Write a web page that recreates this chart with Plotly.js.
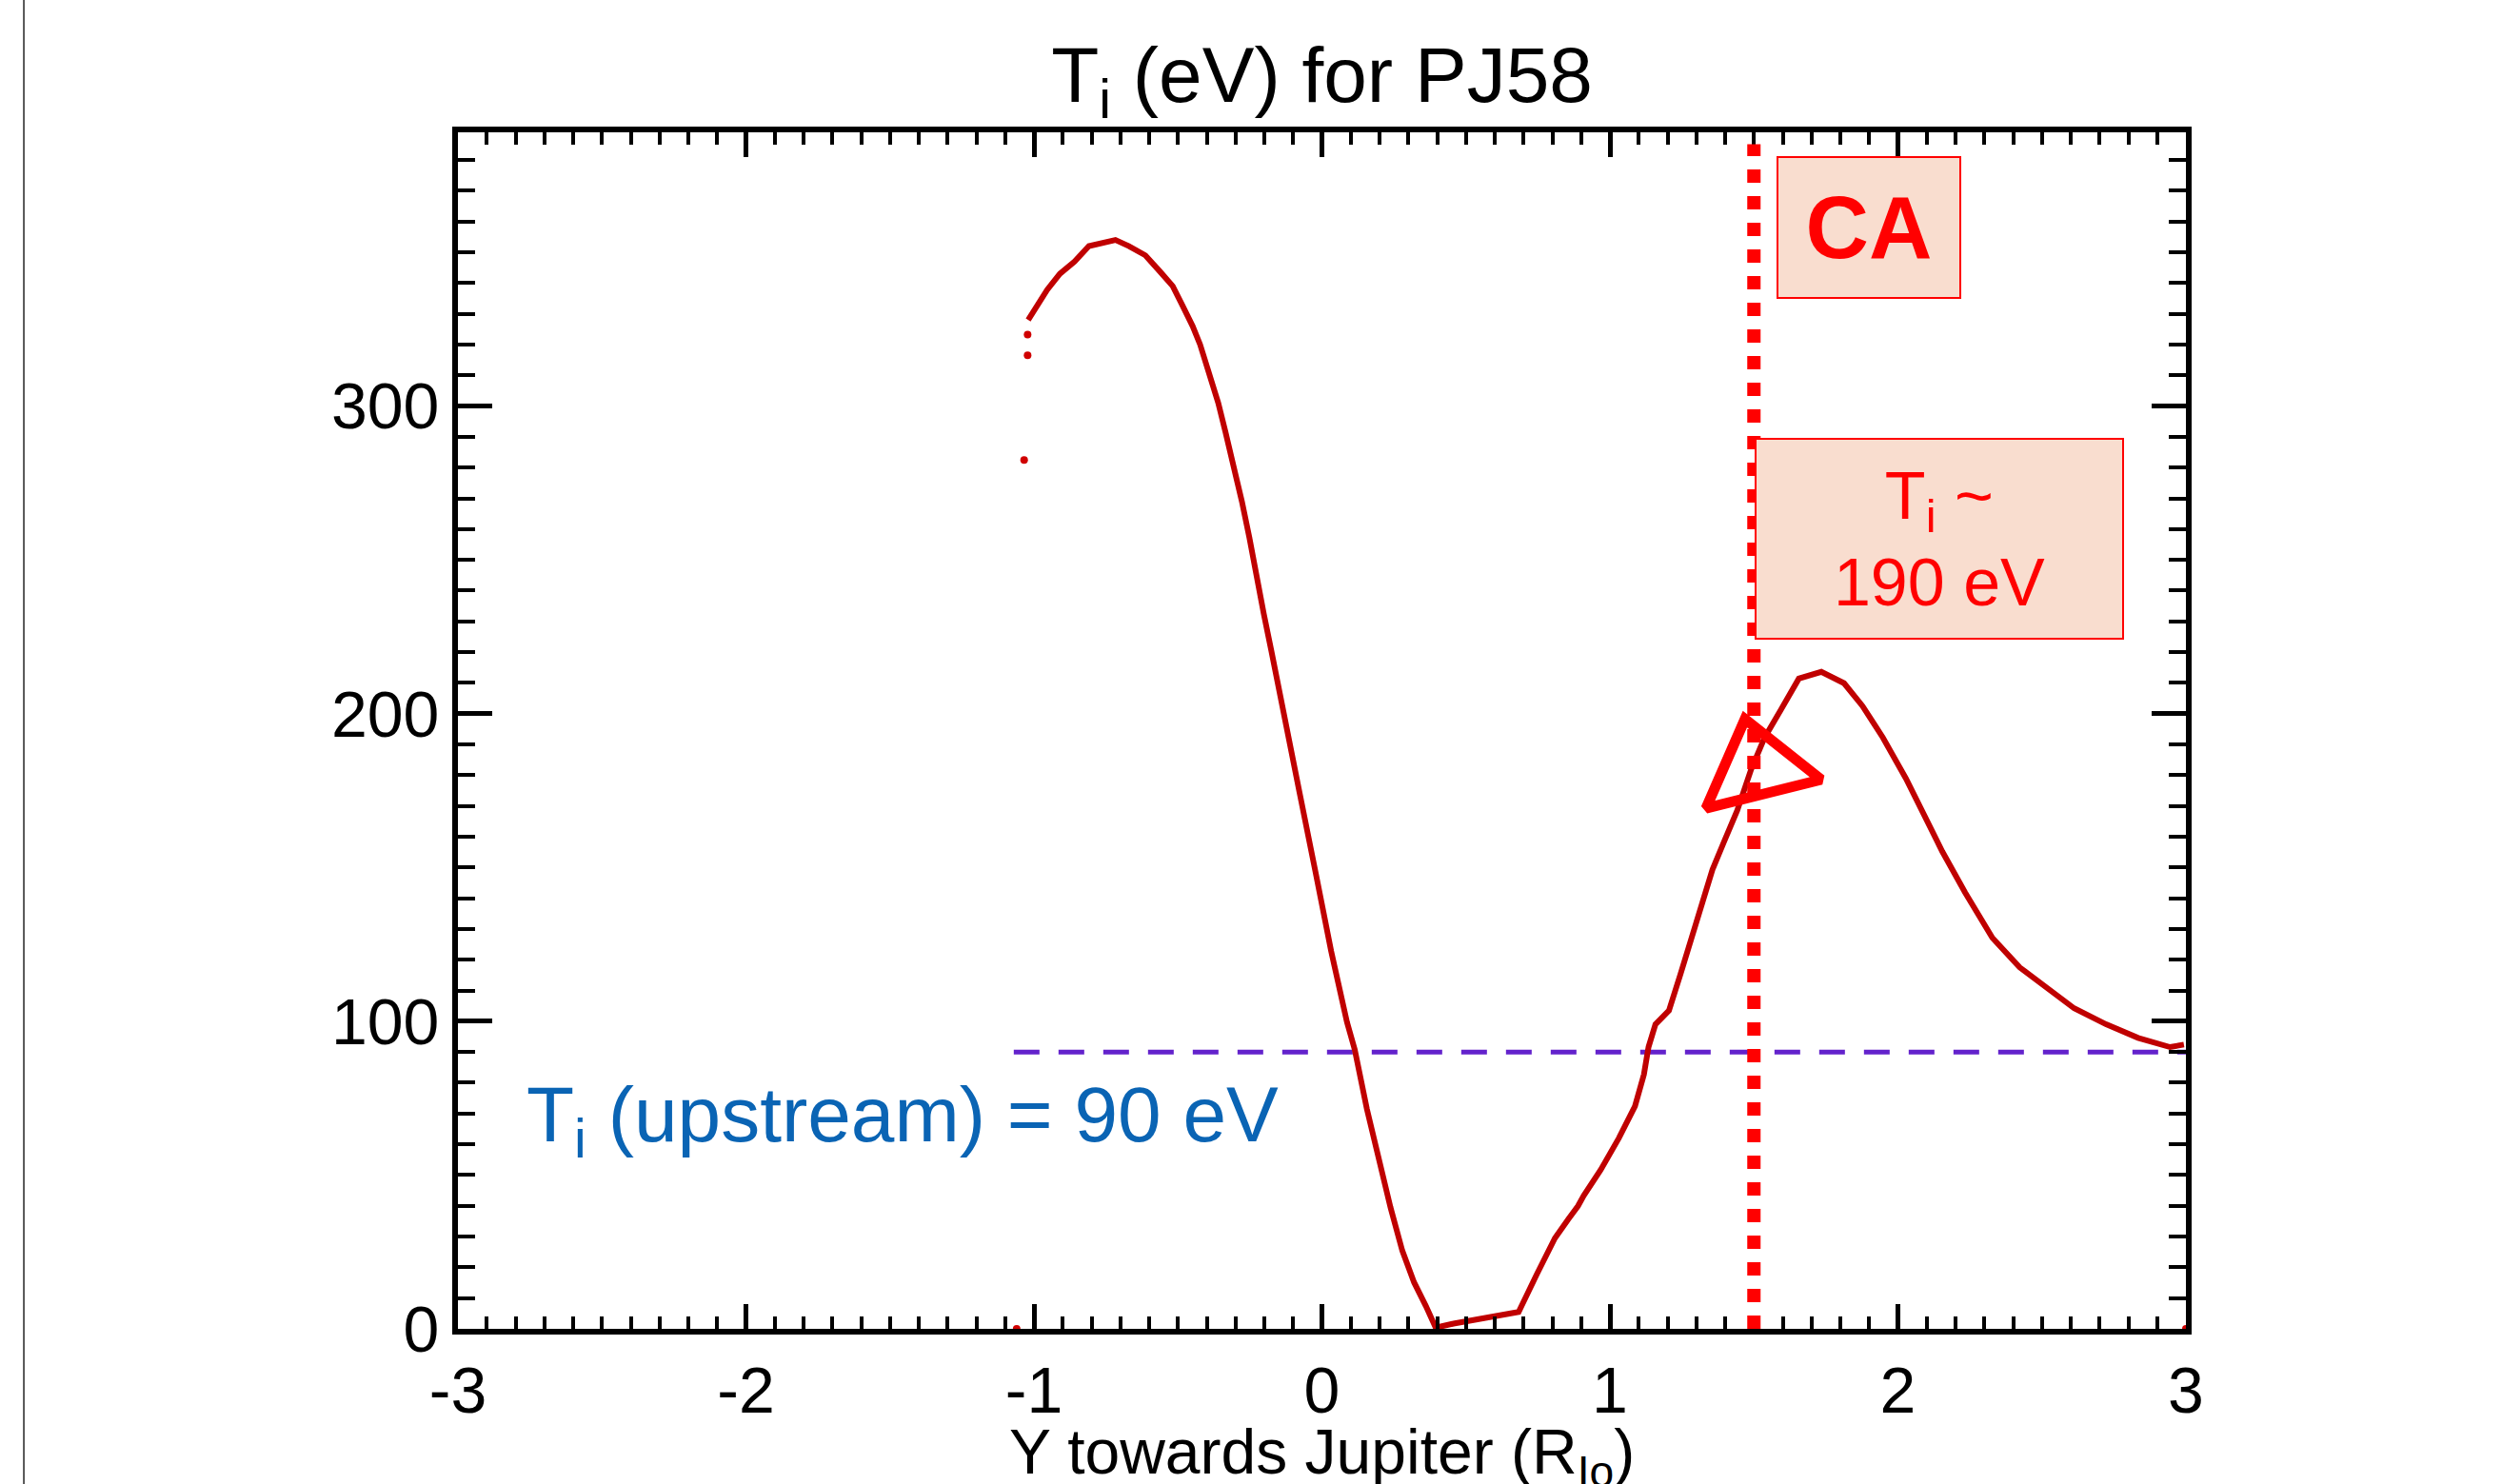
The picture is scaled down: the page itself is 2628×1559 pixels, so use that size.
<!DOCTYPE html>
<html>
<head>
<meta charset="utf-8">
<script src="https://cdn.plot.ly/plotly-3.0.1.min.js"></script>
<style>
  html, body { margin: 0; padding: 0; background: #ffffff; }
  #chart { width: 2628px; height: 1559px; }
</style>
</head>
<body>
<div id="chart"></div>
<script>
// ---- Data ----
// Y towards Jupiter (R_Io)
const yTowardsJupiter = [
  -1.020, -0.992, -0.954, -0.910, -0.859, -0.809, -0.765, -0.717, -0.670, -0.613,
  -0.562, -0.518, -0.486, -0.449, -0.423, -0.392, -0.360, -0.335, -0.303, -0.278,
  -0.252, -0.227, -0.202, -0.176, -0.145, -0.120, -0.094, -0.077, -0.022, 0.032,
  0.087, 0.114, 0.156, 0.197, 0.238, 0.279, 0.320, 0.361, 0.395, 0.457,
  0.526, 0.594, 0.683, 0.746, 0.809, 0.855, 0.889, 0.909, 0.968, 1.031,
  1.087, 1.118, 1.134, 1.158, 1.205, 1.245, 1.285, 1.324, 1.356, 1.395,
  1.442, 1.490, 1.537, 1.592, 1.656, 1.734, 1.813, 1.877, 1.948, 2.028,
  2.091, 2.154, 2.233, 2.328, 2.423, 2.518, 2.612, 2.723, 2.834, 2.945, 2.993
];
// Ion temperature T_i (eV)
const ionTempEv = [
  328, 332, 337.8, 343, 347, 352, 352.8, 354, 352, 349,
  343.7, 339, 333, 326, 320, 310.5, 301, 291.6, 279.8, 269,
  257.3, 244.3, 232.5, 220.6, 206.5, 194.6, 184, 174, 148.4, 122.8,
  99.7, 90.8, 71.5, 54.9, 39.5, 25.4, 15.1, 7.4, 0.4, 1.7,
  3, 4.2, 5.5, 17.7, 29.5, 35.6, 39.9, 43.3, 51.7, 62,
  72.4, 82.7, 91.6, 99, 103.5, 115.3, 127.1, 139, 149.3, 158.1,
  168.5, 181.8, 192.2, 201, 211.4, 213.6, 209.9, 202.5, 192.2, 178.9,
  167, 155.2, 141.9, 127.1, 117.5, 110.9, 104.2, 99, 94.6, 91.6, 92.4
];
// isolated samples
const strayY = [-1.034, -1.022, -1.022, -1.06, 3.0];
const strayTemp = [282.5, 316.5, 323.2, 0, 0];

// upstream reference level
const upstreamY = [-1.07, 3.0];
const upstreamTemp = [90, 90];

// closest approach
const caPosition = 1.5;
const caMarkerY = [1.512];
const caMarkerTemp = [182];

// ticks
const xTickVals = [-3, -2, -1, 0, 1, 2, 3];
const xTickText = ['-3', '-2', '-1', '0', '1', '2', '3'];
const yTickVals = [0, 100, 200, 300];
const yTickText = ['0', '100', '200', '300'];

const FONT = 'Liberation Sans, Arial, Helvetica, sans-serif';

const traces = [
  {
    x: upstreamY, y: upstreamTemp, type: 'scatter', mode: 'lines',
    line: { color: '#6322cc', width: 5, dash: '27px,20px' },
    hoverinfo: 'skip'
  },
  {
    x: yTowardsJupiter, y: ionTempEv, type: 'scatter', mode: 'lines',
    line: { color: '#c00000', width: 6 },
    name: 'T_i'
  },
  {
    x: strayY, y: strayTemp, type: 'scatter', mode: 'markers',
    marker: { color: '#d00000', size: 8 },
    cliponaxis: false
  },
  {
    x: caMarkerY, y: caMarkerTemp, type: 'scatter', mode: 'markers',
    marker: { symbol: 'triangle-up-open', size: 108, angle: -14,
              color: '#ff0000', line: { color: '#ff0000', width: 11 } },
    cliponaxis: false
  }
];

const layout = {
  width: 2628, height: 1559,
  paper_bgcolor: '#ffffff', plot_bgcolor: '#ffffff',
  margin: { l: 481, r: 332, t: 139, b: 163, pad: 0 },
  showlegend: false,
  font: { family: FONT, color: '#000000' },
  title: {
    text: 'T<sub>i</sub> (eV) for PJ58',
    font: { family: FONT, size: 82, color: '#000000' },
    xref: 'paper', x: 0.5, xanchor: 'center',
    yref: 'container', y: 0.95, yanchor: 'middle'
  },
  xaxis: {
    range: [-3, 3],
    tickmode: 'array', tickvals: xTickVals, ticktext: xTickText,
    ticks: 'inside', ticklen: 26, tickwidth: 5, tickcolor: '#000000',
    minor: { ticks: 'inside', ticklen: 13, tickwidth: 4, dtick: 0.1, tick0: 0, tickcolor: '#000000', showgrid: false },
    showline: true, linecolor: '#000000', linewidth: 6, mirror: 'allticks',
    showgrid: false, zeroline: false,
    tickfont: { family: FONT, size: 68, color: '#000000' }
  },
  yaxis: {
    range: [0, 389],
    tickmode: 'array', tickvals: yTickVals, ticktext: yTickText,
    ticks: 'inside', ticklen: 36, tickwidth: 5, tickcolor: '#000000',
    minor: { ticks: 'inside', ticklen: 18, tickwidth: 4, dtick: 10, tick0: 0, tickcolor: '#000000', showgrid: false },
    showline: true, linecolor: '#000000', linewidth: 6, mirror: 'allticks',
    showgrid: false, zeroline: false,
    tickfont: { family: FONT, size: 68, color: '#000000' },
    ticklabelstandoff: 0
  },
  shapes: [
    {
      type: 'line', xref: 'x', yref: 'paper',
      x0: caPosition, x1: caPosition, y0: 0, y1: 0.99,
      line: { color: '#ff0000', width: 14, dash: 'dot' }
    },
    {
      type: 'line', xref: 'paper', yref: 'paper',
      x0: -0.2512, x1: -0.2512, y0: -0.14, y1: 1.12,
      line: { color: '#555555', width: 2 }
    }
  ],
  annotations: [
    {
      // x-axis title (the reference crops it at the bottom edge)
      xref: 'paper', yref: 'paper', x: 0.5, y: -0.0716, xanchor: 'center', yanchor: 'top',
      text: 'Y towards Jupiter (R<sub>Io</sub>)', showarrow: false,
      font: { family: FONT, size: 66, color: '#000000' }
    },
    {
      xref: 'x', yref: 'y', x: 1.9, y: 358, xanchor: 'center', yanchor: 'middle',
      text: '<b>CA</b>', showarrow: false,
      font: { family: FONT, size: 92, color: '#ff0000' },
      bgcolor: '#f9ddcf', bordercolor: '#ff0000', borderwidth: 2, borderpad: 0,
      width: 190, height: 146, valign: 'middle', align: 'center'
    },
    {
      xref: 'x', yref: 'y', x: 2.144, y: 257, xanchor: 'center', yanchor: 'middle',
      text: 'T<sub>i</sub> ~<br>190 eV', showarrow: false,
      font: { family: FONT, size: 70, color: '#ff0000' },
      bgcolor: '#f9ddcf', bordercolor: '#ff0000', borderwidth: 2, borderpad: 0,
      width: 384, height: 208, valign: 'middle', align: 'center'
    },
    {
      xref: 'x', yref: 'y', x: -2.77, y: 68, xanchor: 'left', yanchor: 'middle',
      text: 'T<sub>i</sub> (upstream) = 90 eV', showarrow: false,
      font: { family: FONT, size: 82, color: '#0a64b4' }
    }
  ]
};

Plotly.newPlot('chart', traces, layout, { displayModeBar: false, staticPlot: true });
</script>
</body>
</html>
